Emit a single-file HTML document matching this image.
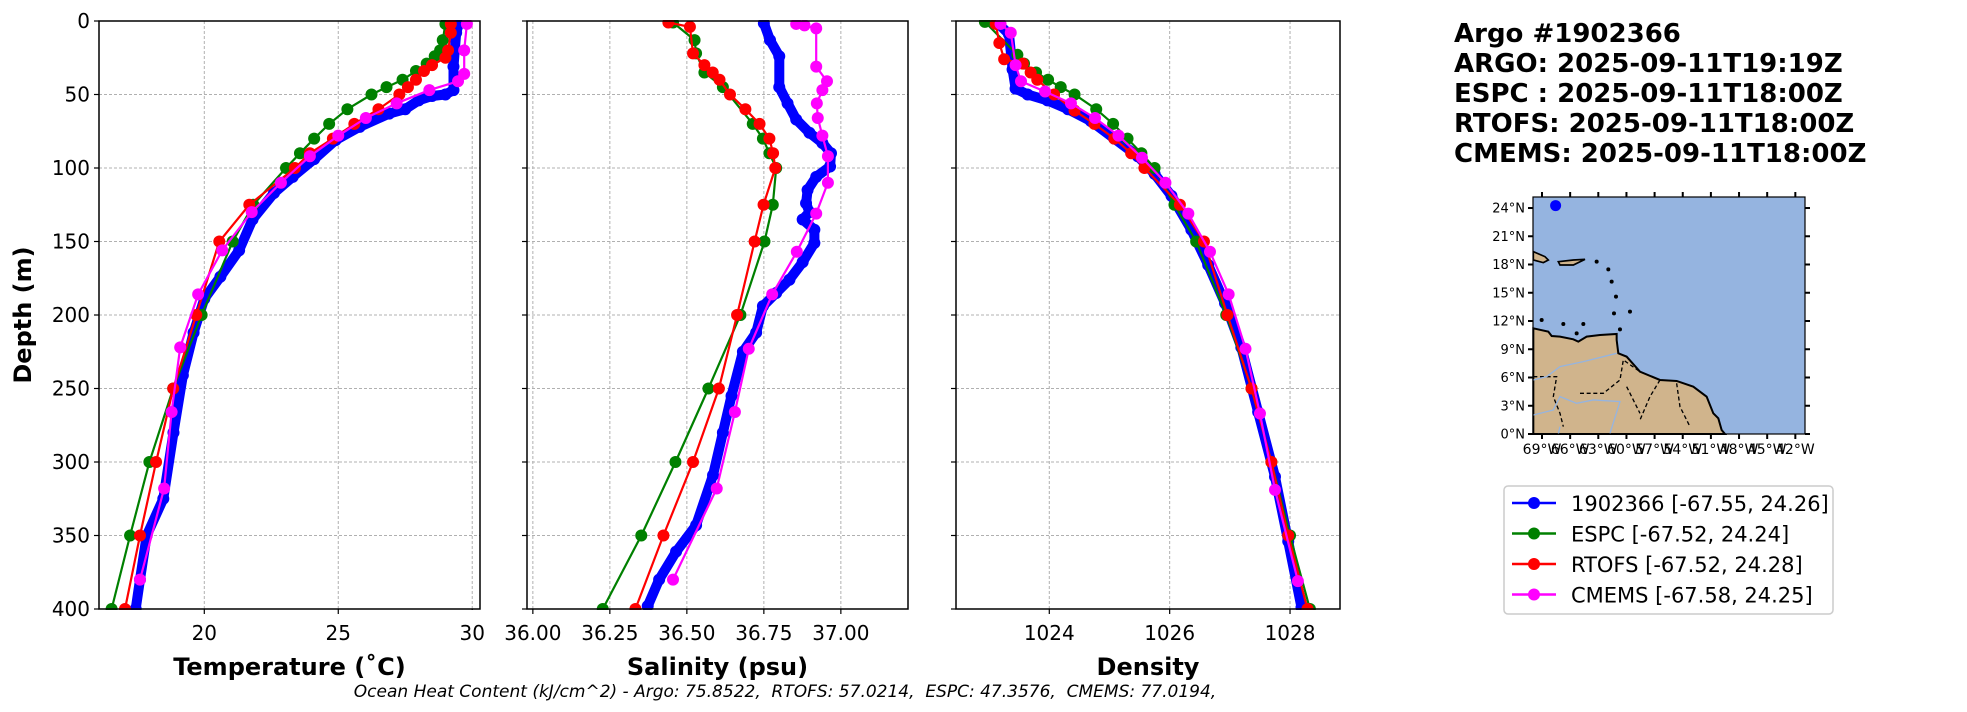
<!DOCTYPE html>
<html><head><meta charset="utf-8"><style>
html,body{margin:0;padding:0;background:#fff;}
svg{display:block;font-family:"DejaVu Sans","Liberation Sans",sans-serif;}
</style></head><body>
<svg id="chart" width="1967" height="712" viewBox="0 0 1967 712" xmlns="http://www.w3.org/2000/svg">
<g id="title" font-weight="bold" font-size="26" fill="#000">
<text x="1454" y="42">Argo #1902366</text>
<text x="1454" y="72">ARGO: 2025-09-11T19:19Z</text>
<text x="1454" y="102">ESPC : 2025-09-11T18:00Z</text>
<text x="1454" y="132">RTOFS: 2025-09-11T18:00Z</text>
<text x="1454" y="162">CMEMS: 2025-09-11T18:00Z</text>
</g>
<g id="map"></g>
<g id="legend">
<rect x="1504" y="486" width="329" height="128" rx="4" fill="#fff" stroke="#ccc" stroke-width="1.5"/>
</g>
<text x="785" y="697" font-size="17" font-style="italic" text-anchor="middle">Ocean Heat Content (kJ/cm^2) - Argo: 75.8522,&#160; RTOFS: 57.0214,&#160; ESPC: 47.3576,&#160; CMEMS: 77.0194,</text>
</svg>
<script>
// ---------- data ----------
const depthTicks=[0,50,100,150,200,250,300,350,400];
const tempTicks=[20,25,30];
const salTicks=[36.00,36.25,36.50,36.75,37.00];
const salTickLabels=["36.00","36.25","36.50","36.75","37.00"];
const denTicks=[1024,1026,1028];

const argoTempDepth=[2,8,31,47,50,51,54,60,63,72,81,94,106,117,135,156,174,189,212,241,280,325,350,380,400];
const argoTemp=[29.5,29.4,29.3,29.3,29.0,28.5,28.0,27.5,26.9,25.8,24.9,24.1,23.3,22.6,21.8,21.3,20.6,20.0,19.6,19.2,18.85,18.47,17.85,17.6,17.44];
const espcTempDepth=[2,13,20,24,29,34,40,45,50,60,70,80,90,100,125,150,200,250,300,350,400];
const espcTemp=[29.0,28.9,28.8,28.6,28.3,27.9,27.4,26.8,26.24,25.34,24.66,24.1,23.57,23.05,21.83,21.06,19.9,18.84,17.95,17.23,16.54];
const rtofsTempDepth=[2,8,20,25,30,34,40,45,50,60,70,80,90,100,125,150,200,250,300,350,400];
const rtofsTemp=[29.2,29.2,29.1,29.0,28.5,28.2,27.9,27.6,27.28,26.5,25.6,24.8,23.94,23.38,21.68,20.56,19.7,18.84,18.2,17.6,17.04];
const cmemsTempDepth=[2,20,36,41,47,56,66,78,92,110,130,156,186,222,266,318,380];
const cmemsTemp=[29.8,29.7,29.7,29.47,28.4,27.18,26.03,25.0,23.94,22.86,21.77,20.67,19.77,19.1,18.78,18.5,17.6];

const argoSalDepth=[1.5,13,24,45,56,67,76,83,90,99,106,115,124,130,135,142,151,164,176,185,194,212,225,255,280,309,343,361,380,398];
const argoSal=[36.75,36.77,36.80,36.80,36.827,36.855,36.898,36.94,36.968,36.965,36.92,36.892,36.887,36.898,36.876,36.914,36.914,36.876,36.833,36.79,36.747,36.725,36.682,36.645,36.617,36.585,36.53,36.465,36.41,36.373];
const espcSalDepth=[1,13,22,35,45,70,80,90,100,125,150,200,250,300,350,400];
const espcSal=[36.455,36.525,36.53,36.557,36.617,36.714,36.747,36.768,36.79,36.779,36.752,36.674,36.57,36.463,36.352,36.227];
const rtofsSalDepth=[1,4,22,30,35,40,50,60,70,80,90,100,125,150,200,250,300,350,400];
const rtofsSal=[36.44,36.51,36.52,36.557,36.584,36.606,36.64,36.69,36.736,36.768,36.78,36.787,36.749,36.72,36.663,36.604,36.52,36.424,36.333];
const cmemsSalDepth=[2,3,5,31,41,47,56,66,78,92,110,131,157,186,223,266,318,380];
const cmemsSal=[36.855,36.882,36.92,36.92,36.955,36.94,36.922,36.925,36.94,36.958,36.958,36.92,36.857,36.777,36.701,36.656,36.597,36.455];

const argoDenDepth=[2,9,33,46,50,54,60,68,80,92,104,119,142,166,192,222,266,310,354,399];
const argoDen=[23.16,23.33,23.39,23.44,23.64,23.97,24.31,24.69,25.08,25.47,25.75,26.03,26.36,26.64,26.92,27.19,27.47,27.75,27.97,28.19];
const espcDenDepth=[0.6,23,29,35,40,45,50,60,70,80,90,100,125,150,200,250,300,350,400];
const espcDen=[22.93,23.47,23.58,23.78,23.98,24.19,24.42,24.78,25.06,25.3,25.53,25.75,26.08,26.44,26.94,27.36,27.69,28.0,28.33];
const rtofsDenDepth=[2,15,26,29,35,40,50,61,70,80,90,100,125,150,200,250,300,350,400];
const rtofsDen=[23.11,23.17,23.25,23.56,23.69,23.8,24.08,24.42,24.75,25.08,25.36,25.58,26.17,26.57,26.96,27.36,27.69,27.97,28.29];
const cmemsDenDepth=[2,8,30,41,48,56,66,78,93,110,131,157,186,223,267,319,381];
const cmemsDen=[23.19,23.36,23.44,23.53,23.93,24.36,24.76,25.15,25.54,25.93,26.31,26.67,26.98,27.26,27.5,27.75,28.13];

const legendLabels=["1902366 [-67.55, 24.26]","ESPC [-67.52, 24.24]","RTOFS [-67.52, 24.28]","CMEMS [-67.58, 24.25]"];
const lonTicks=[-69,-66,-63,-60,-57,-54,-51,-48,-45,-42];
const latTicks=[0,3,6,9,12,15,18,21,24];
const argoLon=-67.55, argoLat=24.26;

// ---------- drawing ----------
const NS="http://www.w3.org/2000/svg";
const svg=document.getElementById('chart');
function mk(tag,attrs,parent){const e=document.createElementNS(NS,tag);for(const k in attrs)e.setAttribute(k,attrs[k]);(parent||svg).appendChild(e);return e;}
const Y0=21,Y1=609;
const yScale=d=>Y0+(d/400)*(Y1-Y0);
const colors=["#0000ff","#008000","#ff0000","#ff00ff"];
const names=["argo","espc","rtofs","cmems"];

function panel(key,x0,x1,xmin,xmax,ticks,tickLabels,title,series,showY){
  const g=mk('g',{});
  
  
  const xs=v=>x0+(v-xmin)/(xmax-xmin)*(x1-x0);
  ticks.forEach(t=>{const l=mk('line',{x1:xs(t),x2:xs(t),y1:Y0,y2:Y1,stroke:'#b0b0b0','stroke-width':1,'stroke-dasharray':'3,2'},g);
    
    });
  depthTicks.forEach(d=>{const l=mk('line',{x1:x0,x2:x1,y1:yScale(d),y2:yScale(d),stroke:'#b0b0b0','stroke-width':1,'stroke-dasharray':'3,2'},g);
    
    });
  series.forEach((s,i)=>{
    const sg=mk('g',{},g);
    
    
    const pts=s[1].map((v,j)=>xs(v).toFixed(1)+','+yScale(s[0][j]).toFixed(1)).join(' ');
    if(i===0){mk('polyline',{points:pts,fill:'none',stroke:colors[i],'stroke-width':10,'stroke-linejoin':'round','stroke-linecap':'round'},sg);}
    else mk('polyline',{points:pts,fill:'none',stroke:colors[i],'stroke-width':2.2},sg);
    s[1].forEach((v,j)=>{const c=mk('circle',{cx:xs(v),cy:yScale(s[0][j]),r:6,fill:colors[i]},sg);
      
      });
  });
  mk('rect',{x:x0-60,y:0,width:x1-x0+120,height:Y0-1,fill:'#fff'},g);
  mk('rect',{x:x0-60,y:Y1+1,width:x1-x0+120,height:12,fill:'#fff'},g);
  const f=mk('rect',{x:x0,y:Y0,width:x1-x0,height:Y1-Y0,fill:'none',stroke:'#000','stroke-width':1.5},g);
  
  
  ticks.forEach((t,i)=>{mk('line',{x1:xs(t),x2:xs(t),y1:Y1,y2:Y1+5,stroke:'#000','stroke-width':1.2},g);
    const tx=mk('text',{x:xs(t),y:Y1+31,'font-size':20,'text-anchor':'middle'},g);tx.textContent=tickLabels[i];
    
    });
  depthTicks.forEach(d=>{mk('line',{x1:x0-5,x2:x0,y1:yScale(d),y2:yScale(d),stroke:'#000','stroke-width':1.2},g);
    if(showY){const tx=mk('text',{x:x0-9,y:yScale(d)+7,'font-size':20,'text-anchor':'end'},g);tx.textContent=d;
      
      }});
  const tt=mk('text',{x:(x0+x1)/2,y:675,'font-size':24,'font-weight':'bold','text-anchor':'middle'},g);tt.textContent=title;
  
  
}
panel('temperature',99,480,16.07,30.29,tempTicks,tempTicks.map(String),'Temperature (˚C)',
  [[argoTempDepth,argoTemp],[espcTempDepth,espcTemp],[rtofsTempDepth,rtofsTemp],[cmemsTempDepth,cmemsTemp]],true);
panel('salinity',527,908,35.981,37.218,salTicks,salTickLabels,'Salinity (psu)',
  [[argoSalDepth,argoSal],[espcSalDepth,espcSal],[rtofsSalDepth,rtofsSal],[cmemsSalDepth,cmemsSal]],false);
panel('density',956,1340,1022.45,1028.83,denTicks,denTicks.map(String),'Density',
  [[argoDenDepth,argoDen.map(v=>v+1000)],[espcDenDepth,espcDen.map(v=>v+1000)],[rtofsDenDepth,rtofsDen.map(v=>v+1000)],[cmemsDenDepth,cmemsDen.map(v=>v+1000)]],false);
const yl=mk('text',{x:0,y:0,'font-size':24,'font-weight':'bold','text-anchor':'middle',transform:'translate(31,315) rotate(-90)'});
yl.textContent='Depth (m)';



const lg=document.getElementById('legend');
legendLabels.forEach((lab,i)=>{
  const y=503+i*30.5;
  const e=mk('g',{},lg);
  
  
  mk('line',{x1:1512,x2:1556,y1:y,y2:y,stroke:colors[i],'stroke-width':2.5},e);
  mk('circle',{cx:1534,cy:y,r:6,fill:colors[i]},e);
  const t=mk('text',{x:1571,y:y+8,'font-size':21},e);t.textContent=lab;
});

const mg=document.getElementById('map');
const MX0=1533,MX1=1805,MY0=197,MY1=434;
const lonS=v=>MX0+(v+69.96)/(28.99)*(MX1-MX0);
const latS=v=>MY1-(v/25.17)*(MY1-MY0);
mk('rect',{x:MX0,y:MY0,width:MX1-MX0,height:MY1-MY0,fill:'#95b4e0'},mg);
const land=mk('g',{transform:'translate(1460,180) scale(0.3333)'},mg);


mk('path',{d:'M220,445 L265,455 L275,468 L300,470 L340,478 L355,485 L380,470 L420,465 L470,462 L470,480 L475,520 L500,530 L540,575 L600,600 L650,603 L700,620 L740,650 L760,700 L775,715 L785,750 L795,762 L220,762 Z',fill:'#d0b48c',stroke:'#000','stroke-width':6},land);
mk('path',{d:'M220,215 L255,230 L265,240 L250,248 L220,240 Z M295,245 L340,240 L375,238 L340,255 L300,255 Z',fill:'#d0b48c',stroke:'#000','stroke-width':5},land);
mk('path',{d:'M220,590 L290,590 L280,650 L300,700 L310,740 M360,640 L430,640 L480,600 L490,540 L540,575 M500,620 L540,700 M600,600 L570,650 L540,720 M650,610 L660,680 L690,740',fill:'none',stroke:'#000','stroke-width':4,'stroke-dasharray':'12,8'},land);
mk('path',{d:'M220,600 L260,590 L300,560 L370,545 L470,520 M220,705 L280,690 L300,650 L350,670 L400,660 L480,665 L450,760 M300,740 L295,762',fill:'none',stroke:'#95b4e0','stroke-width':4},land);
[[410,245],[445,268],[455,305],[468,350],[462,400],[510,395],[480,448],[350,460],[310,432],[245,420],[370,432]].forEach(p=>mk('circle',{cx:p[0],cy:p[1],r:6,fill:'#000'},land));
mk('rect',{x:MX0,y:MY0,width:MX1-MX0,height:MY1-MY0,fill:'none',stroke:'#000','stroke-width':1.2},mg);
lonTicks.forEach(v=>{const x=lonS(v);
  mk('line',{x1:x,x2:x,y1:MY1,y2:MY1+5,stroke:'#000','stroke-width':2},mg);
  mk('line',{x1:x,x2:x,y1:MY0-5,y2:MY0,stroke:'#000','stroke-width':2},mg);
  const t=mk('text',{x:x,y:MY1+20,'font-size':14,'text-anchor':'middle'},mg);t.textContent=Math.abs(v)+'°W';
  
  });
latTicks.forEach(v=>{const y=latS(v);
  mk('line',{x1:MX0-5,x2:MX0,y1:y,y2:y,stroke:'#000','stroke-width':2},mg);
  mk('line',{x1:MX1,x2:MX1+5,y1:y,y2:y,stroke:'#000','stroke-width':2},mg);
  const t=mk('text',{x:MX0-8,y:y+4.5,'font-size':13,'text-anchor':'end'},mg);t.textContent=v+'°N';
  
  });
const dot=mk('circle',{cx:lonS(argoLon),cy:latS(argoLat),r:5.5,fill:'#0000ff'},mg);


</script>
</body></html>
